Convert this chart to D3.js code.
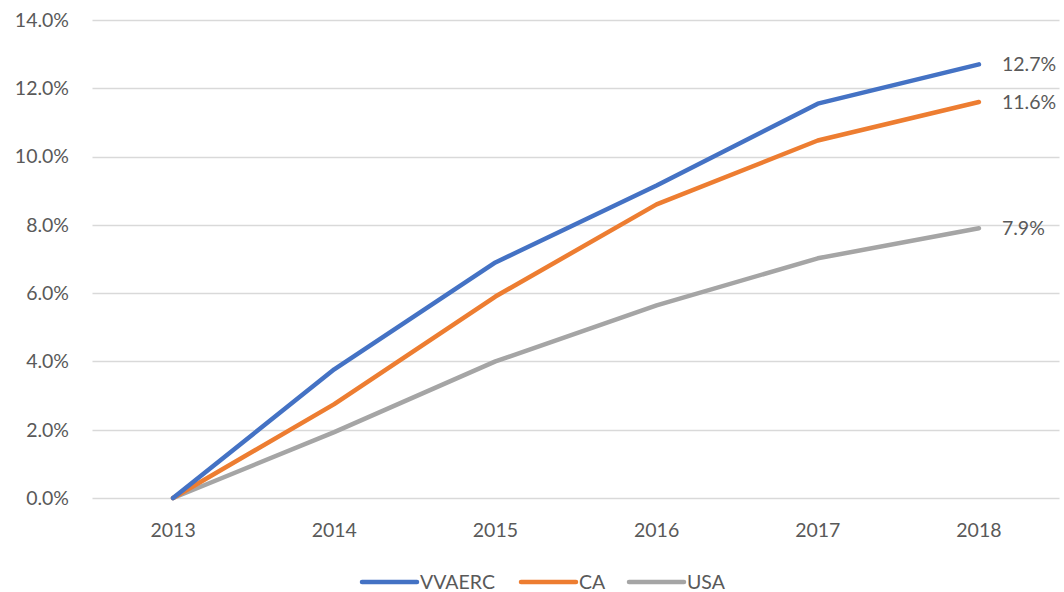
<!DOCTYPE html>
<html><head><meta charset="utf-8">
<script src="https://cdn.jsdelivr.net/npm/d3@7"></script>
<style>body{margin:0;background:#fff;} text{font-family:Lato,"Open Sans",sans-serif;fill:#595959;}</style>
</head><body><svg id="c" width="1064" height="592"></svg>
<script>
const years = ["2013","2014","2015","2016","2017","2018"];
const vvaerc = [0, 3.77, 6.9, 9.15, 11.55, 12.7];
const ca = [0, 2.75, 5.9, 8.6, 10.47, 11.6];
const usa = [0, 1.93, 4.0, 5.64, 7.02, 7.9];
const yTicks = [0,2,4,6,8,10,12,14];
const seriesNames = ["VVAERC","CA","USA"];
const colors = ["#4472C4","#ED7D31","#A5A5A5"];
const endLabels = ["12.7%","11.6%","7.9%"];
const fs = "19.5px";

const svg = d3.select("#c");
const x = d3.scaleBand().domain(years).range([92.5,1059.5]);
const y = d3.scaleLinear().domain([0,14]).range([498,20]);

const g = svg.append("g");
g.selectAll("line.grid").data(yTicks).join("line")
  .attr("x1",92.5).attr("x2",1059.5)
  .attr("y1",d=>Math.round(y(d))+0.5).attr("y2",d=>Math.round(y(d))+0.5)
  .attr("stroke","#d9d9d9").attr("stroke-width",1.3);
g.selectAll("text.yt").data(yTicks).join("text")
  .attr("x",69).attr("y",d=>y(d)).attr("dy","0.35em").attr("text-anchor","end")
  .style("font-size",fs).text(d=>d.toFixed(1)+"%");
g.selectAll("text.xt").data(years).join("text")
  .attr("x",d=>x(d)+x.bandwidth()/2).attr("y",530).attr("dy","0.35em").attr("text-anchor","middle")
  .style("font-size",fs).text(d=>d);

const data = [vvaerc, ca, usa];
const line = d3.line().x((d,i)=>x(years[i])+x.bandwidth()/2).y(d=>y(d));
[2,1,0].forEach(k=>{
  svg.append("path").attr("d",line(data[k])).attr("fill","none")
    .attr("stroke",colors[k]).attr("stroke-width",4.5).attr("stroke-linecap","round").attr("stroke-linejoin","round");
});
data.forEach((s,k)=>{
  svg.append("text").attr("x",x(years[5])+x.bandwidth()/2+23).attr("y",y(s[5])).attr("dy","0.35em")
    .style("font-size",fs).text(endLabels[k]);
});

const legX = [362,521,629];
seriesNames.forEach((n,k)=>{
  svg.append("line").attr("x1",legX[k]).attr("x2",legX[k]+55).attr("y1",582).attr("y2",582)
    .attr("stroke",colors[k]).attr("stroke-width",4.5).attr("stroke-linecap","round");
  svg.append("text").attr("x",legX[k]+58).attr("y",582).attr("dy","0.35em").style("font-size",fs).text(n);
});
</script></body></html>
